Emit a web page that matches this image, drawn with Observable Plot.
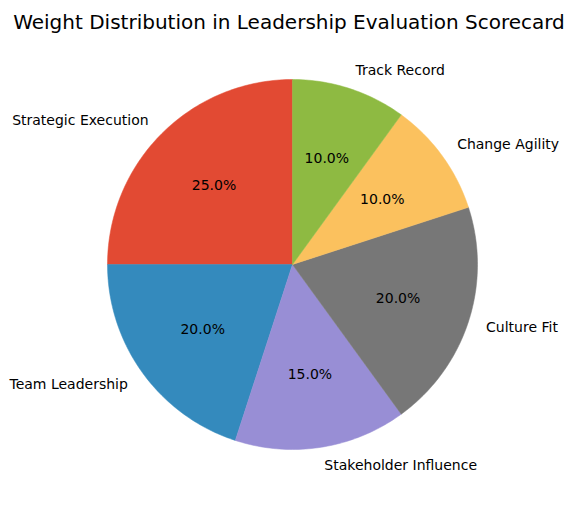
<!DOCTYPE html>
<html>
<head>
<meta charset="utf-8">
<script src="https://cdn.jsdelivr.net/npm/d3@7"></script>
<script src="https://cdn.jsdelivr.net/npm/@observablehq/plot@0.6"></script>
<style>
  html, body { margin: 0; padding: 0; background: #fff; }
  #title { width: 578px; height: 40px; text-align: center; font-family: "DejaVu Sans", sans-serif; font-size: 20px; line-height: 44px; color: #000; white-space: nowrap; }
  svg { display: block; }
</style>
</head>
<body>
<div id="title">Weight Distribution in Leadership Evaluation Scorecard</div>
<div id="chart"></div>
<script>
const categories = ["Strategic Execution", "Team Leadership", "Stakeholder Influence", "Culture Fit", "Change Agility", "Track Record"];
const weights = [25, 20, 15, 20, 10, 10];
const colors = ["#E24A33", "#348ABD", "#988ED5", "#777777", "#FBC15E", "#8EBA42"];

const total = d3.sum(weights);
let start = 90;
const slices = categories.map((c, i) => {
  const sweep = weights[i] / total * 360;
  const s = { category: c, value: weights[i], color: colors[i], a0: start, a1: start + sweep, mid: start + sweep / 2 };
  start += sweep;
  return s;
});
const rad = d => d * Math.PI / 180;

const polys = slices.map(s => {
  const pts = [{x: 0, y: 0}];
  const n = Math.max(2, Math.ceil(s.a1 - s.a0));
  for (let k = 0; k <= n; k++) {
    const a = rad(s.a0 + (s.a1 - s.a0) * k / n);
    pts.push({x: Math.cos(a), y: Math.sin(a)});
  }
  pts.push({x: 0, y: 0});
  return {s, pts};
});

const labels = slices.map(s => ({
  text: s.category,
  x: 1.1 * Math.cos(rad(s.mid)),
  y: 1.1 * Math.sin(rad(s.mid))
}));
const pcts = slices.map(s => ({
  text: (s.value / total * 100).toFixed(1) + "%",
  x: 0.6 * Math.cos(rad(s.mid)),
  y: 0.6 * Math.sin(rad(s.mid))
}));

const R = 185, cx = 292, cy = 224;
const chart = Plot.plot({
  width: 578,
  height: 465,
  margin: 0,
  x: { domain: [-1, 1], range: [cx - R, cx + R], axis: null },
  y: { domain: [-1, 1], range: [cy + R, cy - R], axis: null },
  style: { fontFamily: "DejaVu Sans, sans-serif", fontSize: "14px", color: "#000", background: "#fff", overflow: "visible" },
  marks: [
    ...polys.map(p => Plot.line(p.pts, { x: "x", y: "y", fill: p.s.color, stroke: p.s.color, strokeWidth: 0.5, curve: "linear" })),
    Plot.text(labels.filter(d => d.x < 0), { x: "x", y: "y", text: "text", textAnchor: "end", fill: "#000", fontSize: 14 }),
    Plot.text(labels.filter(d => d.x >= 0), { x: "x", y: "y", text: "text", textAnchor: "start", fill: "#000", fontSize: 14 }),
    Plot.text(pcts, { x: "x", y: "y", text: "text", textAnchor: "middle", fill: "#000", fontSize: 14 })
  ]
});
document.getElementById("chart").appendChild(chart);
</script>
</body>
</html>
